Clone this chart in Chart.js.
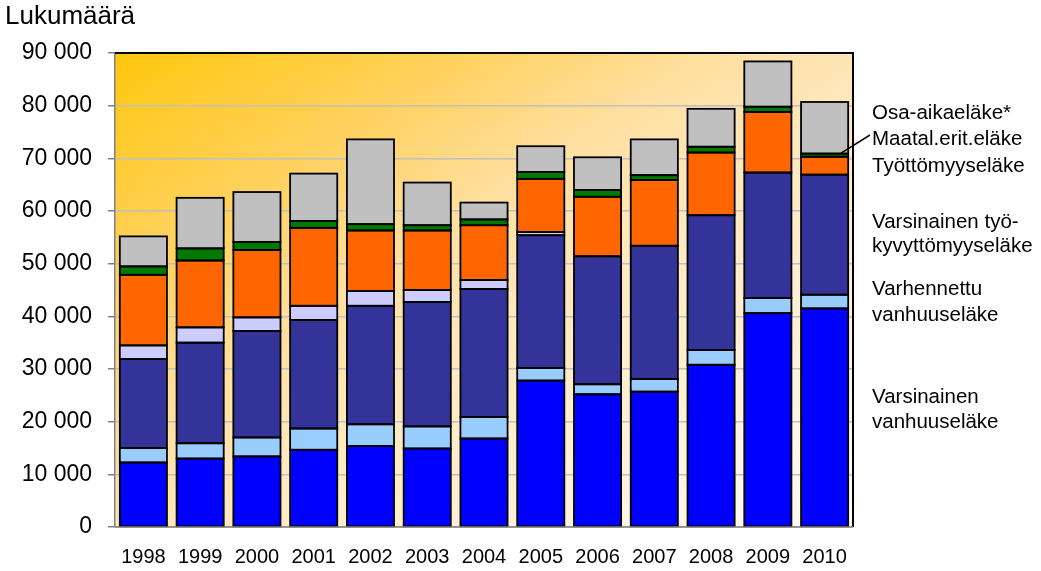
<!DOCTYPE html>
<html>
<head>
<meta charset="utf-8">
<script src="https://cdn.jsdelivr.net/npm/chart.js@4/dist/chart.umd.min.js"></script>
<style>
  html, body { margin: 0; padding: 0; background: #ffffff; }
  #wrap { width: 1041px; height: 571px; position: relative; }
</style>
</head>
<body>
<div id="wrap"><canvas id="c"></canvas></div>
<script>
// ---- Data ----
const years = ['1998','1999','2000','2001','2002','2003','2004','2005','2006','2007','2008','2009','2010'];
const varsinainenVanhuuselake = [12250, 13000, 13400, 14660, 15400, 14900, 16800, 27800, 25200, 25700, 30800, 40600, 41500];
const varhennettuVanhuuselake = [2730, 2900, 3600, 4040, 4100, 4200, 4100, 2400, 1900, 2400, 2800, 2900, 2600];
const tyokyvyttomyyselake = [16900, 19100, 20200, 20600, 22500, 23600, 24300, 25200, 24300, 25300, 25600, 23800, 22800];
const yksilollinenVarhaiselake = [2600, 2900, 2600, 2700, 2800, 2300, 1700, 600, 0, 0, 0, 0, 0];
const tyottomyyselake = [13400, 12700, 12800, 14800, 11500, 11300, 10400, 10100, 11300, 12500, 11900, 11500, 3400];
const maatalEritElake = [1600, 2300, 1500, 1300, 1200, 1000, 1100, 1300, 1300, 900, 1100, 1000, 600];
const osaAikaelake = [5700, 9600, 9500, 9000, 16100, 8100, 3200, 4900, 6200, 6800, 7200, 8600, 9800];

const yAxisTitle = 'Lukumäärä';
const sideLabels = [
  ['Osa-aikaeläke*', 119],
  ['Maatal.erit.eläke', 145],
  ['Työttömyyseläke', 172],
  ['Varsinainen työ-', 228],
  ['kyvyttömyyseläke', 252],
  ['Varhennettu', 295],
  ['vanhuuseläke', 321],
  ['Varsinainen', 403],
  ['vanhuuseläke', 428]
];

const FONT = "'Liberation Sans', Arial, sans-serif";

function fmt(v) {
  return String(v).replace(/\B(?=(\d{3})+(?!\d))/g, ' ');
}

const bgPlugin = {
  id: 'bg',
  beforeDraw(chart) {
    const { ctx, chartArea: a } = chart;
    const W = a.right - a.left, H = a.bottom - a.top;
    const D2 = W * W + H * H;
    const k = 2 * W * H / D2;
    const g = ctx.createLinearGradient(a.left, a.top, a.left + H * k, a.top + W * k);
    g.addColorStop(0, '#FFC70C');
    g.addColorStop(0.25, '#FFD263');
    g.addColorStop(0.4, '#FFDF9E');
    g.addColorStop(0.55, '#FFE8BE');
    g.addColorStop(0.8, '#FFF3DE');
    g.addColorStop(1, '#FFFCF7');
    ctx.save();
    ctx.fillStyle = g;
    ctx.fillRect(a.left, a.top, W, H);
    ctx.restore();
  },
  afterDatasetsDraw(chart) {
    const { ctx } = chart;
    ctx.save();
    ctx.strokeStyle = '#000000';
    ctx.lineWidth = 1.8;
    chart.data.datasets.forEach((d, i) => {
      chart.getDatasetMeta(i).data.forEach((el) => {
        const p = el.getProps(['x', 'y', 'base', 'width'], true);
        const h = Math.abs(p.base - p.y);
        if (h < 0.5) return;
        ctx.strokeRect(p.x - p.width / 2, Math.min(p.y, p.base), p.width, h);
      });
    });
    ctx.restore();
  },
  afterDraw(chart) {
    const { ctx, chartArea: a } = chart;
    ctx.save();
    // frame
    ctx.strokeStyle = '#000000';
    ctx.lineWidth = 2;
    ctx.beginPath();
    ctx.moveTo(a.left, a.top);
    ctx.lineTo(a.right, a.top);
    ctx.lineTo(a.right, a.bottom);
    ctx.stroke();
    ctx.strokeStyle = '#808080';
    ctx.lineWidth = 1.5;
    ctx.beginPath();
    ctx.moveTo(a.left, a.bottom);
    ctx.lineTo(a.right, a.bottom);
    ctx.stroke();

    // title
    ctx.fillStyle = '#000000';
    ctx.font = '26px ' + FONT;
    ctx.textAlign = 'left';
    ctx.textBaseline = 'alphabetic';
    ctx.fillText(yAxisTitle, 5, 24);

    // side labels
    ctx.font = '20.5px ' + FONT;
    sideLabels.forEach(([t, y]) => ctx.fillText(t, 872, y));

    // leader line from the Maatal. segment of the last bar
    const el = chart.getDatasetMeta(5).data[years.length - 1];
    if (el) {
      ctx.strokeStyle = '#000000';
      ctx.lineWidth = 1.5;
      ctx.beginPath();
      ctx.moveTo(el.x + el.width * 0.35, el.y - 0.5);
      ctx.lineTo(870, 135);
      ctx.stroke();
    }
    ctx.restore();
  }
};

function ds(label, data, color) {
  return {
    label, data,
    backgroundColor: color,
    borderWidth: 0,
    barPercentage: 0.83,
    categoryPercentage: 1.0
  };
}

new Chart(document.getElementById('c'), {
  type: 'bar',
  data: {
    labels: years,
    datasets: [
      ds('Varsinainen vanhuuseläke', varsinainenVanhuuselake, '#0000FF'),
      ds('Varhennettu vanhuuseläke', varhennettuVanhuuselake, '#99CCFF'),
      ds('Varsinainen työkyvyttömyyseläke', tyokyvyttomyyselake, '#333399'),
      ds('Yksilöllinen varhaiseläke', yksilollinenVarhaiselake, '#CCCCFF'),
      ds('Työttömyyseläke', tyottomyyselake, '#FF6600'),
      ds('Maatal.erit.eläke', maatalEritElake, '#007A00'),
      ds('Osa-aikaeläke*', osaAikaelake, '#C0C0C0')
    ]
  },
  options: {
    responsive: true,
    maintainAspectRatio: false,
    animation: false,
    layout: { padding: { top: 53, right: 188, left: 0, bottom: 0 } },
    plugins: { legend: { display: false }, tooltip: { enabled: false } },
    scales: {
      x: {
        stacked: true,
        grid: { display: false, drawTicks: false },
        border: { display: false },
        ticks: { color: '#000000', font: { family: FONT, size: 20 }, padding: 18, maxRotation: 0 },
        afterFit(s) { s.height = 44; }
      },
      y: {
        stacked: true,
        min: 0, max: 90000,
        grid: { color: '#C0C0C0', lineWidth: 1.5, tickLength: 7, tickColor: '#808080' },
        border: { display: true, color: '#808080', width: 1.5 },
        ticks: {
          stepSize: 5000,
          color: '#000000',
          padding: 16,
          font: { family: FONT, size: 23 },
          callback: (v) => (v % 10000 === 0 ? fmt(v) : '')
        },
        afterFit(s) { s.width = 115; }
      }
    }
  },
  plugins: [bgPlugin]
});
</script>
</body>
</html>
